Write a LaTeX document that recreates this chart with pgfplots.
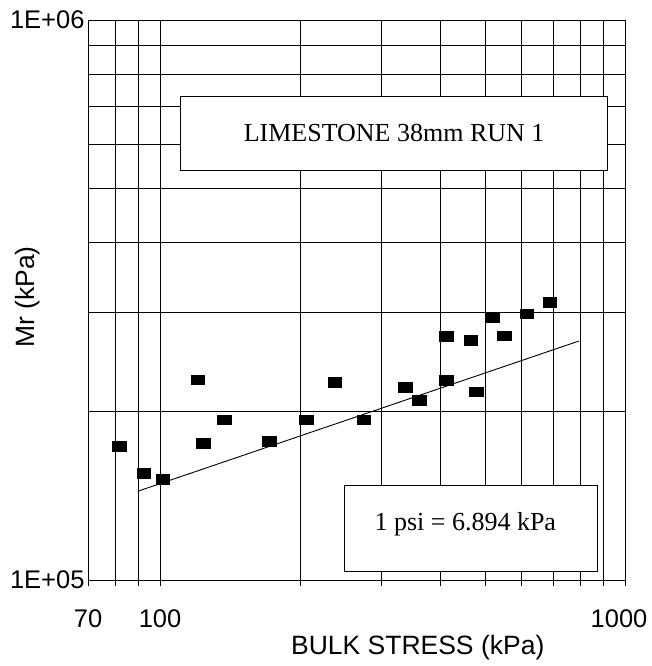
\documentclass[border=0pt]{standalone}
\usepackage{pgfplots}
\pgfplotsset{compat=1.18}
\usepackage{fontspec}
\setmainfont{Liberation Serif}
\newfontfamily\arial{Liberation Sans}

\pgfplotstableread{
x y
81.6 173300
92.2 155300
101.4 151200
120.4 227900
123.9 175300
137.3 193200
171.6 176900
206.2 193200
237.3 225400
274.1 193200
336.5 220800
361.0 209400
412.5 227500
412.5 272600
466.2 267900
479.0 217000
517.5 294900
549.3 273100
614.2 298700
689.0 313100
}\datatable

\begin{document}
\begin{tikzpicture}
\path[use as bounding box] (-88pt,-86pt) rectangle (563pt,580pt);
\begin{axis}[
  at={(0,0)}, anchor=south west,
  width=537pt, height=560pt, scale only axis,
  xmode=log, ymode=log,
  xmin=70, xmax=1000, ymin=1e5, ymax=1e6,
  xtick={70,80,90,100,200,300,400,500,600,700,800,900,1000},
  xticklabels={70,,,100,,,,,,,,,\hspace*{-12pt}1000},
  ytick={1e5,2e5,3e5,4e5,5e5,6e5,7e5,8e5,9e5,1e6},
  yticklabels={1E+05,,,,,,,,,1E+06},
  log ticks with fixed point,
  grid=major,
  grid style={black, line width=0.9pt},
  axis line style={black, line width=0.9pt},
  xtick pos=bottom, ytick pos=left,
  tick align=outside,
  major tick length=6pt,
  tick style={black, line width=0.9pt},
  ytick style={draw=none},
  ticklabel style={font=\arial\fontsize{25.5}{29}\selectfont},
  xticklabel style={yshift=-20pt},
  yticklabel style={xshift=6pt},
  xlabel={BULK STRESS (kPa)},
  ylabel={Mr (kPa)},
  every axis x label/.style={at={(axis description cs:0.614,0)}, anchor=center, yshift=-68pt, font=\arial\fontsize{26.5}{30}\selectfont},
  every axis y label/.style={at={(axis description cs:-0.1117,0.505)}, anchor=center, rotate=90, font=\arial\fontsize{26.5}{30}\selectfont},
  clip=false,
]
\addplot[black, line width=0.9pt] coordinates {(89.5,144000) (796,267100)};
\addplot[only marks, mark=square*, mark size=4.8pt, mark options={xscale=1.4, fill=black, draw=black}] table[x=x,y=y] {\datatable};
\draw[black, line width=0.9pt, fill=white] (rel axis cs:0.173,0.732) rectangle (rel axis cs:0.9665,0.864);
\node[font=\fontsize{26}{30}\selectfont] at (rel axis cs:0.57,0.798) {LIMESTONE 38mm RUN 1};
\draw[black, line width=0.9pt, fill=white] (rel axis cs:0.4777,0.015) rectangle (rel axis cs:0.9479,0.1696);
\node[font=\fontsize{26}{30}\selectfont] at (rel axis cs:0.7025,0.1) {1 psi = 6.894 kPa};
\end{axis}
\end{tikzpicture}
\end{document}
